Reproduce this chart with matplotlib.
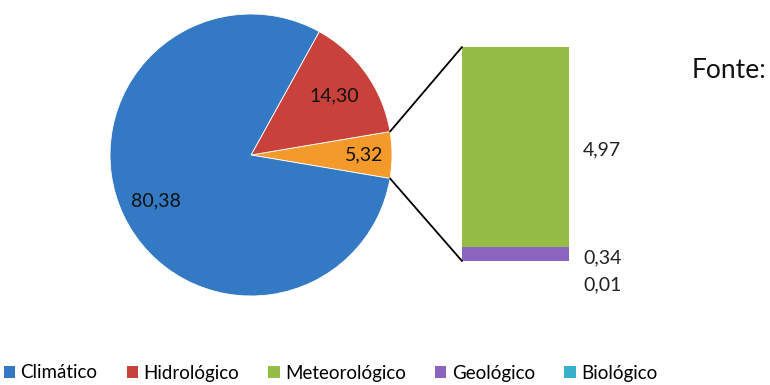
import numpy as np
import matplotlib
matplotlib.use("Agg")
import matplotlib.pyplot as plt
from matplotlib.patches import ConnectionPatch, Patch

plt.rcParams['font.family'] = ['Lato', 'DejaVu Sans']

# Main pie: grouped "others" slice first, then Hidrológico, then Climático
pie_labels = ["Outros", "Hidrológico", "Climático"]
pie_values = [5.32, 14.30, 80.38]
pie_colors = ["#F39A2A", "#C8413A", "#3479C4"]

# Breakdown of the "others" slice (stacked from the bottom)
bar_labels = ["Biológico", "Geológico", "Meteorológico"]
bar_values = [0.01, 0.34, 4.97]
bar_colors = ["#3AAFC9", "#8A64BE", "#93BD45"]

legend_labels = ["Climático", "Hidrológico", "Meteorológico", "Geológico", "Biológico"]
legend_colors = ["#3479C4", "#C8413A", "#93BD45", "#8A64BE", "#3AAFC9"]


def fmt(v):
    return f"{v:.2f}".replace(".", ",")


W, H = 770, 385
fig = plt.figure(figsize=(W / 100, H / 100), dpi=100)

# pie axes (pixel box of the circle)
cx, cy, r = 251, 155, 141
ax_pie = fig.add_axes([(cx - r) / W, (H - cy - r) / H, 2 * r / W, 2 * r / H])
start = -pie_values[0] / sum(pie_values) * 360 / 2
wedges, _ = ax_pie.pie(pie_values, colors=pie_colors, startangle=start,
                       counterclock=True, radius=1,
                       wedgeprops=dict(edgecolor="#ffffff", linewidth=0.6))
ax_pie.set_xlim(-1, 1)
ax_pie.set_ylim(-1, 1)
ax_pie.set_aspect("equal")
ax_pie.axis("off")

for w, v, d in zip(wedges, pie_values, [0.80, 0.72, 0.75]):
    ang = np.deg2rad((w.theta1 + w.theta2) / 2)
    ax_pie.text(d * np.cos(ang), d * np.sin(ang), fmt(v), ha="center",
                va="center", fontsize=14, color="#111111")

# stacked bar axes
bx0, bx1, by0, by1 = 462, 569, 47, 261
ax_bar = fig.add_axes([bx0 / W, (H - by1) / H, (bx1 - bx0) / W, (by1 - by0) / H])
bottom = 0.0
for v, c in zip(bar_values, bar_colors):
    ax_bar.bar(0, v, width=1.0, bottom=bottom, color=c, edgecolor="none")
    bottom += v
total = sum(bar_values)
ax_bar.set_xlim(-0.5, 0.5)
ax_bar.set_ylim(0, total)
ax_bar.axis("off")

# bar value labels
bottom = 0.0
offsets = [-17, -3, -2]
for v, off in zip(bar_values, offsets):
    ax_bar.annotate(fmt(v), xy=(0.5, bottom + v / 2), xytext=(10, off),
                    textcoords="offset points", ha="left", va="center",
                    fontsize=14, color="#222222", annotation_clip=False)
    bottom += v

# connector lines from the "others" slice edges to the bar corners
t1 = np.deg2rad(wedges[0].theta1)
t2 = np.deg2rad(wedges[0].theta2)
for ang, yb in [(t2, total), (t1, 0)]:
    con = ConnectionPatch(xyA=(np.cos(ang), np.sin(ang)), coordsA=ax_pie.transData,
                          xyB=(-0.5, yb), coordsB=ax_bar.transData,
                          color="black", linewidth=1.3)
    fig.add_artist(con)

fig.text(692 / W, 1 - 70 / H, "Fonte:", fontsize=19, ha="left", va="center",
         color="#111111")

handles = [Patch(facecolor=c, edgecolor="none") for c in legend_colors]
fig.legend(handles, legend_labels, loc="center left", bbox_to_anchor=(0.0, 1 - 373 / H),
           ncol=5, frameon=False, fontsize=13.5, handlelength=0.6, handleheight=0.6,
           handletextpad=0.3, columnspacing=1.55, borderaxespad=0, borderpad=0.2)

fig.savefig("out.png", dpi=100, facecolor="white")
